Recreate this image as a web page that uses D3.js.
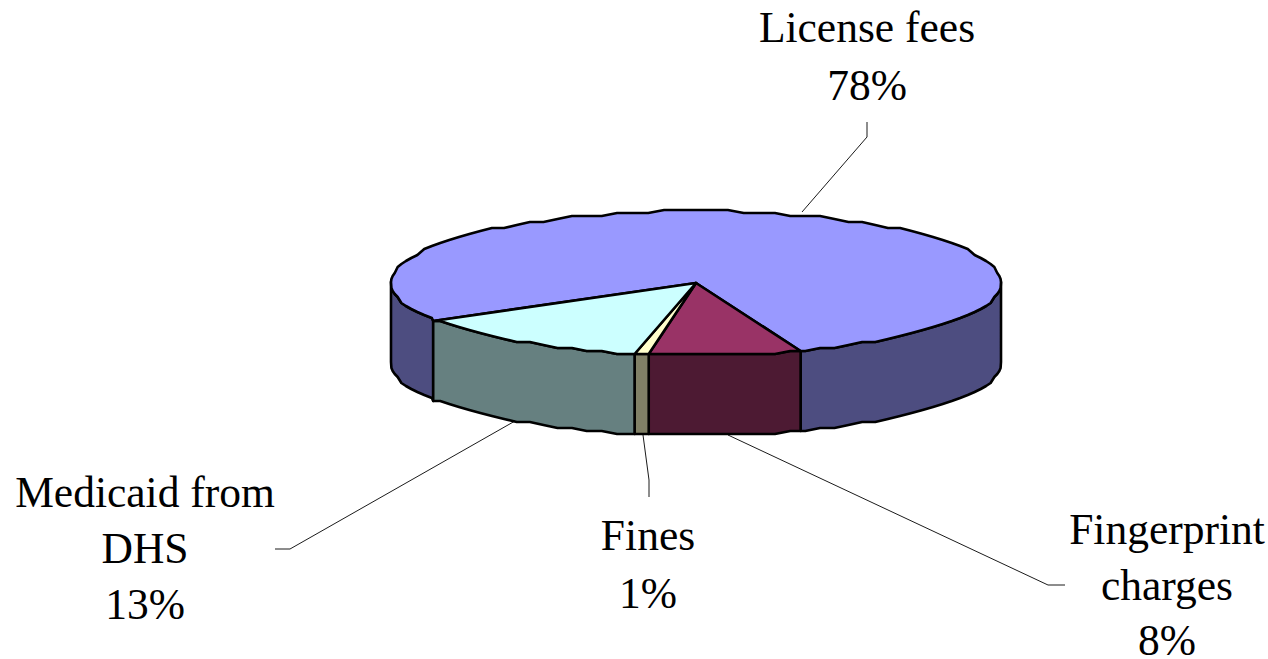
<!DOCTYPE html>
<html><head><meta charset="utf-8">
<script src="https://cdn.jsdelivr.net/npm/d3@7"></script>
<style>html,body{margin:0;background:#fff;overflow:hidden}</style></head>
<body><svg id="c" width="1268" height="659"></svg>
<script>
const categories = ["License fees","Fingerprint charges","Fines","Medicaid from DHS"];
const values = [77.9,8.05,0.75,13.3];
const percentLabels = ["78%","8%","1%","13%"];
const topColors = ["#9999FF","#993366","#FFFFCC","#CCFFFF"];
const sideColors = ["#4D4D80","#4D1A33","#808066","#668080"];
const labelLines = [["License fees","78%"],["Fingerprint","charges","8%"],["Fines","1%"],["Medicaid from","DHS","13%"]];
const labelAnchor = [[867,42,58],[1167,544,55.5],[648,550,58],[145,507,56]];
const leaders = [[[867,122],[867,137],[802,212]],[[728,435],[1048,585],[1065,585]],[[643,435],[649,480],[649,497]],[[515,421],[290,549],[275,549]]];

const cx=696, cy=283, rx=305, ry=72, depth=80, step=Math.PI/60, grid=3;
const x=d3.scaleLinear().domain([-1,1]).range([cx-rx,cx+rx]);
const y=d3.scaleLinear().domain([-1,1]).range([cy-ry,cy+ry]);
const svg=d3.select("#c");
const start=(149.5+90)*Math.PI/180;
const arcs=d3.pie().sort(null).startAngle(start).endAngle(start+2*Math.PI)(values);
// angle in d3 pie: 0 at top, clockwise; outline is snapped to a coarse grid for the stepped metafile look
const snap=v=>Math.round(v/grid)*grid;
const px=a=>x(Math.sin(a)), py=a=>snap(y(-Math.cos(a)));
// samples fall on a shared angular lattice so neighbouring faces have the same outline
function samples(a,b){
  const out=[a];
  for(let k=Math.ceil(a/step+1e-6);k*step<b-1e-6;k++) out.push(k*step);
  out.push(b);
  return out;
}
const line=d3.line().curve(d3.curveLinear);
const TAU=2*Math.PI, vis0=Math.PI/2, vis1=3*Math.PI/2;

const sides=[];
arcs.forEach((d,i)=>{
  [-TAU,0,TAU].forEach(off=>{
    const a=Math.max(d.startAngle+off,vis0), b=Math.min(d.endAngle+off,vis1);
    if(b>a) sides.push({i,a,b});
  });
});
svg.append("g").selectAll("path").data(sides).join("path")
  .attr("d",s=>{
    const t=samples(s.a,s.b).map(a=>[px(a),py(a)]);
    const bt=t.map(p=>[p[0],p[1]+depth]).reverse();
    return line(t.concat(bt))+"Z";
  })
  .attr("fill",s=>sideColors[s.i]).attr("stroke","#000").attr("stroke-width",2.6).attr("stroke-linejoin","round");

svg.append("g").selectAll("path").data(arcs).join("path")
  .attr("d",d=>line([[cx,cy]].concat(samples(d.startAngle,d.endAngle).map(a=>[px(a),py(a)])))+"Z")
  .attr("fill",(d,i)=>topColors[i]).attr("stroke","#000").attr("stroke-width",2.6).attr("stroke-linejoin","round");

svg.append("g").selectAll("path").data(leaders).join("path")
  .attr("d",d=>line(d)).attr("fill","none").attr("stroke","#000").attr("stroke-width",0.9);

const g=svg.append("g").attr("font-family","'Liberation Serif','Times New Roman',serif").attr("font-size",43.5).attr("fill","#000").attr("text-anchor","middle");
labelLines.forEach((ls,i)=>{
  const [lx,ly,dy]=labelAnchor[i];
  g.append("g").selectAll("text").data(ls).join("text").attr("x",lx).attr("y",(d,k)=>ly+k*dy).text(d=>d);
});
</script></body></html>
